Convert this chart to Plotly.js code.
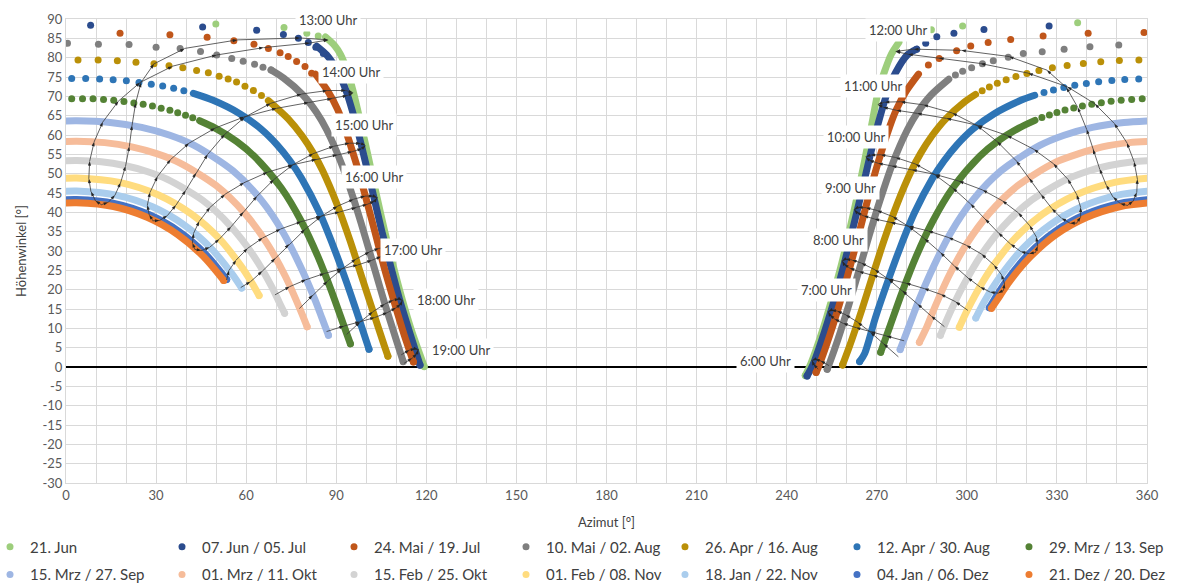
<!DOCTYPE html>
<html><head><meta charset="utf-8">
<script src="https://cdn.plot.ly/plotly-3.0.1.min.js"></script>
<style>html,body{margin:0;padding:0;background:#fff}#chart{width:1179px;height:585px}.js-line{stroke-linecap:round;stroke-linejoin:round}</style>
</head><body><div id="chart"></div>
<script>
const seriesNames = ["21. Jun","07. Jun / 05. Jul","24. Mai / 19. Jul","10. Mai / 02. Aug","26. Apr / 16. Aug","12. Apr / 30. Aug","29. Mrz / 13. Sep","15. Mrz / 27. Sep","01. Mrz / 11. Okt","15. Feb / 25. Okt","01. Feb / 08. Nov","18. Jan / 22. Nov","04. Jan / 06. Dez","21. Dez / 20. Dez"];

// sun paths: afternoon (Pm) and morning (Am) dense parts, separated dots near the top (Dot)
const jun21PmAz = [86.4,89.5,91.4,93.8,95.5,98.3,100.9,103.4,106,108.8,111.8,115.1,118.9,119.3];
const jun21PmAlt = [85.35,83.07,80.83,76.24,71.69,62.59,53.51,44.48,35.53,26.67,17.93,9.35,0.97,0.1];
const jun21AmAz = [246.2,248.1,251.9,255.2,258.3,261,263.6,266,268.3,270.6,272.5,274.8,277.4];
const jun21AmAlt = [-2.2,0.97,9.35,17.93,26.67,35.53,44.48,53.51,62.59,71.69,76.24,80.83,84];
const jun21DotAz = [49.9,72.6,80.2,84,288.2,298.6,336.9];
const jun21DotAlt = [88.7,87.8,86.3,85.6,87.2,88.2,89.0];

const jun07PmAz = [83.5,86.8,90.7,93.2,96.7,99.6,102.4,105.1,108,111,114.4,117.9];
const jun07PmAlt = [82.98,80.72,76.17,71.62,62.48,53.39,44.34,35.36,26.46,17.69,9.07,0.5];
const jun07AmAz = [246.8,248.8,252.6,256,259.1,261.9,264.7,267.4,270.3,273.8,276.3,280.2,283.3];
const jun07AmAlt = [-2.3,0.65,9.07,17.69,26.46,35.36,44.34,53.39,62.48,71.62,76.17,80.72,82.2];
const jun07DotAz = [8.2,45.5,63.5,72.4,77.4,80.7,83.2,85.7,283.3,286.3,290,295.7,305.7,327.4];
const jun07DotAlt = [88.4,87.9,87.1,86,85,83.9,82.7,81.1,82.2,83.7,85.4,86.3,87.3,88.2];

const mai24PmAz = [83.1,87.3,90.4,92.7,96.5,99.8,102.9,105.9,109.2,112.6,115.7];
const mai24PmAlt = [75.74,71.22,66.69,62.14,52.99,43.9,34.87,25.9,17.04,8.34,1.3];
const mai24AmAz = [249.8,250.5,254.4,257.9,261.1,264.2,267.2,270.5,274.3,276.6,279.7,283.9];
const mai24AmAlt = [-1.4,-0.18,8.34,17.04,25.9,34.87,43.9,52.99,62.14,66.69,71.22,75.74];
const mai24DotAz = [18,34.6,47,55.9,62.6,67.4,71.3,74,76.8,79.6,81.8,287.2,290.8,296.6,301.3,307.1,314.6,325.4,340.4,359];
const mai24DotAlt = [86.3,85.9,85.3,84.4,83.5,82.4,81.3,80.3,79,77.7,76,78.1,79.8,81.8,83,83.9,84.7,85.6,86.3,86.5];

const mai10PmAz = [68.3,72.5,78.9,83.4,86.8,91.9,95.9,99.5,102.9,106.3,109.9,112.3];
const mai10PmAlt = [76.8,74.71,70.35,65.88,61.36,52.27,43.14,34.04,25,16.04,7.21,1.4];
const mai10AmAz = [253.5,254.35,257.1,260.7,264.1,267.5,271.1,275.1,280.2,283.6,288.1,294.0];
const mai10AmAlt = [-0.6,1.12,7.21,16.04,25,34.04,43.14,52.27,61.36,65.88,70.35,74.42];
const mai10DotAz = [0.5,10.8,21,30,38,44.8,50.2,55.2,59,62.8,65.6,68.3,350.6,341,332.4,325.1,318.8,313.8,308.8,305.2,301.6,298.6,296.2];
const mai10DotAlt = [83.7,83.5,83.4,82.7,82.4,81.6,80.7,79.8,79.1,78.3,77.5,76.8,83.3,82.8,82.2,81.5,81.1,80.1,79.2,78.4,77.4,76.5,75.5];

const apr26PmAz = [67.4,74,78.6,82.3,85.4,90.4,94.6,98.4,102.2,106,107.2];
const apr26PmAlt = [68.9,64.18,59.8,55.37,50.86,41.78,32.66,23.54,14.48,5.51,2.8];
const apr26AmAz = [258.6,261,264.9,268.6,272.4,276.6,281.6,284.7,288.4,293,299.1,302.9];
const apr26AmAlt = [0.5,5.51,14.48,23.54,32.66,41.78,50.86,55.37,59.8,64.18,68.47,70.5];
const apr26DotAz = [4,10.7,17.1,23.3,29.3,34.3,38.9,43.5,47.4,51,54,56.8,59.6,62.4,65.1,357.3,350.8,344.6,338.8,333.4,328.5,324.0,320.0,316.35,313.1,310.15,307.5,305.1];
const apr26DotAlt = [79.4,79.4,79.2,78.8,78.4,77.9,77.4,76.7,76.1,75.2,74.5,73.7,72.6,71.5,70.2,79.42,79.24,78.93,78.5,77.98,77.37,76.68,75.93,75.13,74.27,73.37,72.43,71.46];

const apr12PmAz = [42.4,49,58,64.9,70.3,74.7,78.4,84.4,89.2,93.5,97.5,100.9];
const apr12PmAlt = [70.77,68.97,65.46,61.6,57.47,53.22,48.85,39.93,30.86,21.74,12.62,4.6];
const apr12AmAz = [264.3,266,269.5,273.5,277.8,282.6,288.6,292.3,296.7,302.1,309,318,322.6];
const apr12AmAlt = [1.4,3.54,12.62,21.74,30.86,39.93,48.85,53.22,57.47,61.6,65.46,68.97,70.27];
const apr12DotAz = [1.9,6.55,11.2,15.7,20.1,24.3,28.4,32.2,35.85,39.25,357.25,352.6,348.3,343.9,339.8,335.95,332.3,328.85,325.7];
const apr12DotAlt = [74.6,74.6,74.48,74.28,74.0,73.6,73.14,72.66,72.1,71.47,74.5,74.37,74.1,73.74,73.3,72.84,72.27,71.67,71.02];

const mrz29PmAz = [44.5,49.7,56.9,62.7,71.7,78.4,83.8,88.4,92.6,94.7];
const mrz29PmAlt = [63.69,61.78,58.29,54.48,46.28,37.63,28.72,19.66,10.55,6];
const mrz29AmAz = [271.3,272.3,274.4,278.6,283.2,288.6,295.3,304.3,310.1,317.3,322.7];
const mrz29AmAlt = [3.8,5.99,10.55,19.66,28.72,37.63,46.28,54.48,58.29,61.78,63.78];
const mrz29DotAz = [1.9,5.5,9.0,12.5,15.9,19.3,22.6,25.7,28.8,31.7,34.6,37.2,39.8,42.2,358.4,354.9,351.4,348.05,344.8,341.6,338.5,335.6,332.7,330.0,327.5,325.0];
const mrz29DotAlt = [69.4,69.4,69.37,69.17,68.97,68.67,68.3,67.93,67.47,66.94,66.37,65.78,65.13,64.43,69.38,69.19,68.98,68.7,68.35,67.97,67.51,67.0,66.44,65.84,65.2,64.5];

const mrz15PmAz = [0,3.5,14.7,25.2,34.6,42.7,55.6,65.1,72.3,78,83,85.2,87.4];
const mrz15PmAlt = [63.65,63.7,63.25,61.97,59.93,57.3,50.74,43.08,34.8,26.13,17.24,12.73,8.2];
const mrz15AmAz = [277.8,279.6,281.8,284,289,294.7,301.9,311.4,324.3,332.4,341.8,352.3,360];
const mrz15AmAlt = [4.5,8.2,12.73,17.24,26.13,34.8,43.08,50.74,57.3,59.93,61.97,63.25,63.65];

const mrz01PmAz = [0,3.5,12.9,21.9,30.2,37.7,50,59.5,67,73,78,80.3];
const mrz01PmAlt = [58.3,58.4,58.03,56.92,55.17,52.86,46.92,39.78,31.9,23.53,14.84,10.4];
const mrz01AmAz = [284.2,286.7,289,294,300,307.5,317,329.3,337.3,345.1,354.1,360];
const mrz01AmAlt = [6.4,10.42,14.84,23.53,31.9,39.78,46.92,52.86,55.17,56.92,58.03,58.3];

const feb15PmAz = [0,3.5,11.7,19.5,27,33.8,45.5,54.8,62.3,68.4,71,72.8];
const feb15PmAlt = [53.33,53.39,53.07,52.12,50.57,48.51,43.11,36.46,28.98,20.93,16.75,13.9];
const feb15AmAz = [291.2,293.5,296,298.7,304.8,312.2,321.5,333.2,340,347.5,355.4,360];
const feb15AmAlt = [8.2,12.5,16.75,20.93,28.98,36.46,43.11,48.51,50.57,52.12,53.07,53.33];

const feb01PmAz = [0,3.5,17.8,30.8,41.8,50.9,58.2,61.4,64.3];
const feb01PmAlt = [48.83,48.89,47.75,44.5,39.53,33.31,26.21,22.41,18.5];
const feb01AmAz = [297.5,300,302.7,305.6,308.8,316.1,325.2,336.2,349.2,360];
const feb01AmAlt = [10.3,14.45,18.5,22.41,26.21,33.31,39.53,44.5,47.75,48.83];

const jan18PmAz = [0,3.5,16.7,28.8,39.3,48.1,55.3,58.5];
const jan18PmAlt = [45.45,45.51,44.45,41.43,36.77,30.87,24.06,20.4];
const jan18AmAz = [303,305.6,308.5,311.7,318.9,327.7,338.2,350.3,360];
const jan18AmAlt = [12.7,16.6,20.4,24.06,30.87,36.77,41.43,44.45,45.45];

const jan04PmAz = [0,3.5,16,27.6,37.8,46.4,53.5];
const jan04PmAlt = [43.25,43.3,42.3,39.42,34.96,29.25,22.63];
const jan04AmAz = [307.5,310.4,313.5,320.6,329.2,339.4,351,360];
const jan04AmAlt = [15.3,19.06,22.63,29.25,34.96,39.42,42.3,43.25];

const dez21PmAz = [0,3.5,15.8,27.2,37.2,45.7,52.5];
const dez21PmAlt = [42.4,42.46,41.5,38.65,34.26,28.63,22.4];
const dez21AmAz = [308.2,311.1,314.2,321.3,329.8,339.8,351.2,360];
const dez21AmAlt = [15.2,18.5,22.1,28.6,34.3,38.65,41.5,42.4];

// hour lines (two per hour: first and second half of the year), winter -> summer
const h06aAz = [254.0,251.3,249.4,248.45], h06aAlt = [0.4,1.6,2.0,1.7];
const h06bAz = [250.4,248.9,248.45], h06bAlt = [-0.5,0.8,1.7];
const h07aAz = [277.1,272.3,267.9,263.65,259.66,256.8,254.8,253.85], h07aAlt = [2.7,6.0,9.0,11.6,13.5,14.5,14.7,14.3];
const h07bAz = [279.0,273.25,267.96,263.0,258.76,256.0,254.35,253.85], h07bAlt = [6.8,8.0,9.1,10.2,11.3,12.4,13.5,14.3];
const h08aAz = [292.44,288.1,283.57,278.59,273.93,269.26,264.85,261.7,259.5,258.48], h08aAlt = [10.5,13.2,16.3,19.7,22.7,25.2,26.9,27.7,27.9,27.4];
const h08bAz = [300.24,296.2,291.27,285.74,279.63,273.97,268.63,264.0,260.96,259.09,258.48], h08bAlt = [14.7,16.9,18.8,20.3,21.7,22.7,23.7,24.7,25.6,26.6,27.4];
const h09aAz = [312.14,310.4,307.7,304.4,300.3,295.9,291.2,285.9,280.7,275.3,270.07,266.3,263.7,262.54], h09aAlt = [19.8,19.1,19.4,20.7,23.1,26.1,29.6,33.2,36.3,38.9,40.5,41.2,41.3,40.7];
const h09bAz = [312.2,312.55,311.5,309.0,304.9,299.8,293.85,287.1,280.7,274.6,269.2,265.6,263.3,262.54], h09bAlt = [19.9,21.6,23.9,26.4,29.2,31.5,33.5,35.2,36.4,37.4,38.3,39.1,40.0,40.7];
const h10aAz = [322.76,320.7,317.9,314.56,310.5,306.1,301.2,295.3,289.4,282.9,276.2,271.25,267.86,266.35], h10aAlt = [29.6,29.3,29.9,31.8,34.7,38.3,42.2,46.3,49.7,52.5,54.2,54.9,54.8,54.3];
const h10bAz = [322.9,323.6,323.1,320.9,317.1,311.8,305.2,297.3,289.5,281.75,275.0,270.4,267.44,266.35], h10bAlt = [29.7,31.3,33.7,36.6,39.9,43.0,45.8,48.1,49.8,51.0,52.0,52.7,53.5,54.3];
const h11aAz = [336.5,334.35,331.5,328.3,324.7,320.8,316.5,310.1,303.5,295.15,285.5,277.9,272.6,270.3], h11aAlt = [37.2,37.2,38.5,41.0,44.6,48.8,53.3,58.3,62.4,65.7,67.8,68.6,68.5,67.9];
const h11bAz = [336.65,337.9,337.9,336.6,333.6,328.8,322.3,313.35,303.6,293.15,283.4,276.5,272.1,270.3], h11bAlt = [37.3,38.8,41.3,44.6,48.6,52.6,56.3,59.9,62.5,64.3,65.6,66.4,67.2,67.9];
const h12aAz = [353.35,351.05,348.65,346.4,344.2,342.0,339.9,336.9,333.15,326.6,314.0,298.1,282.3,276.2], h12aAlt = [41.8,42.3,44.0,47.1,51.3,56.3,61.5,67.2,72.3,76.8,80.3,81.9,82.2,81.6];
const h12bAz = [353.5,355.4,356.6,356.8,355.7,353.3,349.1,342.6,333.4,320.4,304.5,290.7,280.4,276.2], h12bAlt = [41.8,42.9,45.2,48.6,53.1,58.0,63.0,68.1,72.5,76.0,78.5,79.9,80.9,81.6];
const h13aAz = [11.76,9.8,8.3,7.6,7.9,9.4,12.3,17.5,24.7,35.5,50.2,65.9,81.3,87.4], h13aAlt = [42.0,43.0,45.4,48.8,53.3,58.3,63.4,68.8,73.6,77.8,80.7,82.6,83.8,84.6];
const h13bAz = [11.9,14.1,16.35,18.2,19.85,21.1,22.0,23.2,25.0,29.3,39.6,57.1,78.0,87.4], h13bAlt = [42.0,42.6,44.5,47.7,52.0,57.1,62.5,68.3,73.6,78.4,82.4,84.6,85.1,84.6];
const h14aAz = [28.9,27.7,27.1,28.0,30.5,34.9,41.0,49.7,59.4,70.2,80.9,88.6,93.75,95.7], h14aAlt = [37.9,39.4,41.9,45.2,49.3,53.7,57.9,61.8,64.7,66.9,68.4,69.4,70.2,70.9];
const h14bAz = [29.0,31.2,33.8,36.65,39.9,43.3,47.2,52.9,59.5,68.2,78.5,87.1,93.25,95.7], h14bAlt = [37.8,37.9,39.2,41.9,45.7,50.2,55.0,60.2,64.6,68.2,70.6,71.5,71.5,70.9];
const h15aAz = [42.9,42.1,42.5,44.4,48.0,53.0,59.4,67.2,75.5,83.4,90.4,95.4,98.6,99.8], h15aAlt = [30.5,32.1,34.6,37.7,41.3,44.7,47.7,50.4,52.3,53.7,54.9,55.7,56.5,57.3];
const h15bAz = [43.0,45.1,47.9,51.1,55.0,59.1,63.65,69.25,75.55,82.4,89.2,94.5,98.2,99.8], h15bAlt = [30.4,30.1,31.0,33.1,36.3,40.1,44.2,48.5,52.3,55.2,57.1,57.9,57.8,57.3];
const h16aAz = [53.5,54.3,56.7,60.5,65.55,71.5,78.4,84.9,91.15,96.7,100.4,102.8,103.6], h16aAlt = [22.6,25.0,27.7,30.7,33.4,35.7,37.6,39.0,40.1,41.2,42.1,42.9,43.8];
const h16bAz = [58.3,61.5,65.4,69.7,74.3,79.6,84.9,90.45,95.8,99.7,102.4,103.6], h16bAlt = [20.6,22.1,24.8,28.1,31.8,35.6,38.9,41.6,43.4,44.2,44.2,43.8];
const h17aAz = [69.7,74.55,80.0,86.1,91.8,97.2,101.9,105.0,107.0,107.6], h17aAlt = [18.7,20.8,22.6,24.2,25.4,26.4,27.6,28.6,29.5,30.4];
const h17bAz = [77.8,82.2,87.1,91.8,96.6,101.1,104.3,106.6,107.6], h17bAlt = [15.2,18.6,22.2,25.3,27.9,29.8,30.7,30.8,30.4];
const h18aAz = [86.9,92.6,97.9,102.85,107.1,109.9,111.5,112.0], h18aAlt = [9.2,10.6,11.7,12.8,14.1,15.3,16.3,17.2];
const h18bAz = [93.55,97.9,102.2,106.2,109.0,111.1,112.0], h18bAlt = [8.5,11.6,14.3,16.3,17.3,17.6,17.2];
const h19aAz = [112.7,115.3,116.9,117.3], h19aAlt = [1.0,2.3,3.5,4.5];
const h19bAz = [111.75,114.4,116.4,117.3], h19bAlt = [3.2,4.4,4.7,4.5];

const hourLabels = ["6:00 Uhr","7:00 Uhr","8:00 Uhr","9:00 Uhr","10:00 Uhr","11:00 Uhr","12:00 Uhr","13:00 Uhr","14:00 Uhr","15:00 Uhr","16:00 Uhr","17:00 Uhr","18:00 Uhr","19:00 Uhr"];
const hourLabelAz = [233.1,253.1,257.1,261.1,263.1,268.7,277.1,87.2,94.9,99.2,102.6,115.5,126.5,131.5];
const hourLabelAlt = [1.6,19.9,32.8,46.3,59.5,72.7,87.2,89.85,76.3,62.6,49.1,30.3,17.3,4.4];

const xTicks = [0,30,60,90,120,150,180,210,240,270,300,330,360];
const yTicks = [-30,-25,-20,-15,-10,-5,0,5,10,15,20,25,30,35,40,45,50,55,60,65,70,75,80,85,90];

const colors = ["#9DCE7C","#2B4C8E","#C0561A","#7F7F7F","#BA9008","#2E75B6","#548235","#9EB6E3","#F6BC9A","#D3D3D3","#FFDC7F","#AACDED","#4472C4","#ED7D31"];
const legendOf = ["legend","legend","legend","legend","legend2","legend2","legend2","legend3","legend3","legend3","legend3","legend4","legend4","legend4"];

const series = [
  [jun21PmAz,jun21PmAlt,jun21AmAz,jun21AmAlt,jun21DotAz,jun21DotAlt],
  [jun07PmAz,jun07PmAlt,jun07AmAz,jun07AmAlt,jun07DotAz,jun07DotAlt],
  [mai24PmAz,mai24PmAlt,mai24AmAz,mai24AmAlt,mai24DotAz,mai24DotAlt],
  [mai10PmAz,mai10PmAlt,mai10AmAz,mai10AmAlt,mai10DotAz,mai10DotAlt],
  [apr26PmAz,apr26PmAlt,apr26AmAz,apr26AmAlt,apr26DotAz,apr26DotAlt],
  [apr12PmAz,apr12PmAlt,apr12AmAz,apr12AmAlt,apr12DotAz,apr12DotAlt],
  [mrz29PmAz,mrz29PmAlt,mrz29AmAz,mrz29AmAlt,mrz29DotAz,mrz29DotAlt],
  [mrz15PmAz,mrz15PmAlt,mrz15AmAz,mrz15AmAlt,[],[]],
  [mrz01PmAz,mrz01PmAlt,mrz01AmAz,mrz01AmAlt,[],[]],
  [feb15PmAz,feb15PmAlt,feb15AmAz,feb15AmAlt,[],[]],
  [feb01PmAz,feb01PmAlt,feb01AmAz,feb01AmAlt,[],[]],
  [jan18PmAz,jan18PmAlt,jan18AmAz,jan18AmAlt,[],[]],
  [jan04PmAz,jan04PmAlt,jan04AmAz,jan04AmAlt,[],[]],
  [dez21PmAz,dez21PmAlt,dez21AmAz,dez21AmAlt,[],[]]
];

const hourLines = [
  [h06aAz,h06aAlt],[h06bAz,h06bAlt],[h07aAz,h07aAlt],[h07bAz,h07bAlt],[h08aAz,h08aAlt],[h08bAz,h08bAlt],
  [h09aAz,h09aAlt],[h09bAz,h09bAlt],[h10aAz,h10aAlt],[h10bAz,h10bAlt],[h11aAz,h11aAlt],[h11bAz,h11bAlt],
  [h12aAz,h12aAlt],[h12bAz,h12bAlt],[h13aAz,h13aAlt],[h13bAz,h13bAlt],[h14aAz,h14aAlt],[h14bAz,h14bAlt],
  [h15aAz,h15aAlt],[h15bAz,h15bAlt],[h16aAz,h16aAlt],[h16bAz,h16bAlt],[h17aAz,h17aAlt],[h17bAz,h17bAlt],
  [h18aAz,h18aAlt],[h18bAz,h18bAlt],[h19aAz,h19aAlt],[h19bAz,h19bAlt]
];

const traces = [];
series.forEach((d, i) => {
  const c = colors[i];
  const line = {color: c, width: 7, shape: 'spline', smoothing: 0.8};
  traces.push({x: d[0], y: d[1], mode: 'lines', line: line, showlegend: false, hoverinfo: 'skip'});
  traces.push({x: d[2], y: d[3], mode: 'lines', line: line, showlegend: false, hoverinfo: 'skip'});
  const dx = d[4].concat([d[0][d[0].length - 1], d[2][0]]);
  const dy = d[5].concat([d[1][d[1].length - 1], d[3][0]]);
  traces.push({x: dx, y: dy, mode: 'markers', name: seriesNames[i], legend: legendOf[i],
    marker: {color: c, size: 7}, hoverinfo: 'skip'});
});
hourLines.forEach(h => {
  traces.push({x: h[0], y: h[1], mode: 'lines+markers', showlegend: false, hoverinfo: 'skip',
    line: {color: '#3a3a3a', width: 0.8},
    marker: {symbol: 'arrow', angleref: 'previous', size: 5, color: '#262626', line: {width: 0}}});
});

const annotations = hourLabels.map((t, i) => ({
  x: hourLabelAz[i], y: hourLabelAlt[i], xref: 'x', yref: 'y', text: t, showarrow: false,
  bgcolor: '#ffffff', borderpad: 3, font: {family: 'Lato, sans-serif', size: 13, color: '#404040'}
}));

const legendBase = {orientation: 'h', xanchor: 'left', yanchor: 'middle', entrywidth: 127, entrywidthmode: 'pixels',
  itemwidth: 30, font: {family: 'Lato, sans-serif', size: 15, color: '#404040'}, bgcolor: 'rgba(0,0,0,0)', traceorder: 'normal'};

const layout = {
  width: 1179, height: 585,
  margin: {l: 66, r: 32, t: 19, b: 102, autoexpand: false},
  paper_bgcolor: '#ffffff', plot_bgcolor: '#ffffff',
  font: {family: 'Lato, sans-serif', color: '#595959'},
  xaxis: {
    range: [0, 360], tickvals: xTicks, ticktext: xTicks.map(String),
    showgrid: true, gridcolor: '#d9d9d9', gridwidth: 1,
    minor: {dtick: 10, showgrid: true, gridcolor: '#d9d9d9', gridwidth: 1},
    zeroline: false, showline: true, linecolor: '#d9d9d9', mirror: true,
    ticks: '', tickfont: {size: 13, color: '#595959'},
    title: {text: 'Azimut [°]', font: {size: 13, color: '#404040'}, standoff: 16}
  },
  yaxis: {
    range: [-30, 90], tickvals: yTicks, ticktext: yTicks.map(v => String(v)),
    showgrid: true, gridcolor: '#d9d9d9', gridwidth: 1,
    zeroline: true, zerolinecolor: '#000000', zerolinewidth: 1.6,
    showline: true, linecolor: '#d9d9d9', mirror: true,
    ticks: '', tickfont: {size: 13, color: '#595959'},
    title: {text: 'Höhenwinkel [°]', font: {size: 13, color: '#404040'}, standoff: 12}
  },
  showlegend: true,
  legend: Object.assign({}, legendBase, {x: -0.0703, y: -0.138}),
  legend2: Object.assign({}, legendBase, {x: 0.5541, y: -0.138}),
  legend3: Object.assign({}, legendBase, {x: -0.0703, y: -0.198}),
  legend4: Object.assign({}, legendBase, {x: 0.5541, y: -0.198}),
  annotations: annotations
};

Plotly.newPlot('chart', traces, layout, {displayModeBar: false, staticPlot: true});
</script>
</body></html>
